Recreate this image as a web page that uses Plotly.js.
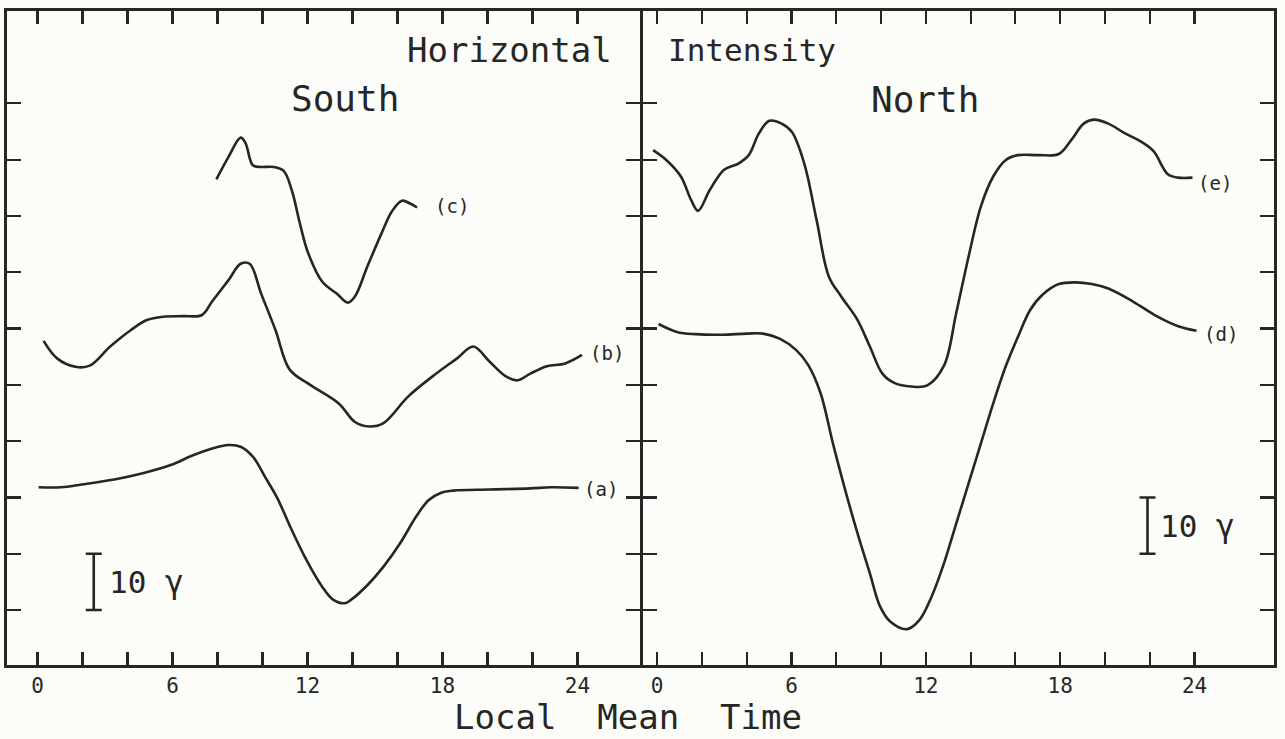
<!DOCTYPE html>
<html>
<head>
<meta charset="utf-8">
<script src="https://cdn.plot.ly/plotly-3.0.1.min.js"></script>
<style>
html,body{margin:0;padding:0;background:#fcfcf8;}
#chart{width:1285px;height:739px;}
</style>
</head>
<body>
<div id="chart"></div>
<script>
// Local mean time (hours) and amplitude (gamma, arbitrary offset)
// South panel
const hoursA = [0.05,1.05,1.96,3.41,4.68,5.95,6.86,7.76,8.49,9.03,9.58,10.12,10.67,11.21,11.94,12.66,13.12,13.66,13.93,14.66,15.38,16.11,16.83,17.38,17.92,18.47,20.1,21.91,22.82,24.05];
const valuesA = [21.8,21.8,22.3,23.2,24.3,25.8,27.4,28.7,29.3,29.0,27.2,23.6,19.8,15.0,9.0,4.1,1.9,1.2,1.8,4.4,7.7,11.8,16.6,19.5,20.8,21.2,21.4,21.6,21.8,21.7];

const hoursB = [0.27,0.87,1.69,2.32,3.23,4.14,4.86,5.59,6.49,7.31,7.76,8.49,9.03,9.43,9.94,10.58,11.21,12.12,13.39,14.11,14.75,15.38,16.47,17.56,18.65,19.37,20.1,20.82,21.33,21.91,22.64,23.46,24.2];
const valuesB = [47.8,44.7,43.2,43.4,46.8,49.7,51.5,52.1,52.2,52.4,54.8,58.6,61.5,61.5,56.2,49.7,42.7,40.0,36.7,33.4,32.6,33.2,37.9,41.5,44.7,46.8,44.1,41.5,40.8,42.0,43.3,43.8,45.3];

const hoursC = [7.95,8.49,9.03,9.25,9.57,9.94,10.48,10.94,11.3,11.66,12.03,12.66,13.3,13.79,14.11,14.66,15.29,15.75,16.2,16.56,16.87];
const valuesC = [76.5,80.5,83.9,82.9,79.0,78.7,78.7,78.0,74.6,68.7,63.4,58.3,56.2,54.6,55.7,61.0,66.9,70.8,72.7,72.2,71.5];

// North panel
const hoursD = [0.06,0.88,1.71,2.9,4.0,4.73,5.47,6.2,6.75,7.3,7.85,8.4,8.95,9.5,9.96,10.42,11.16,11.71,12.26,12.81,13.36,13.91,14.46,15.01,15.56,16.11,16.66,17.21,17.94,18.68,19.41,20.15,21.25,22.35,23.27,24.09];
const valuesD = [50.8,49.4,49.0,48.9,49.1,49.1,48.2,46.2,43.5,38.5,29.6,21.3,13.6,6.5,0.6,-2.1,-3.4,-1.8,2.4,8.3,15.4,22.5,29.6,36.7,43.2,48.5,53.3,56.0,57.9,58.2,57.9,57.1,54.8,52.1,50.4,49.6];

const hoursE = [-0.18,0.42,1.06,1.52,1.83,2.35,2.99,3.63,4.09,4.55,5.01,5.56,6.02,6.57,7.12,7.67,8.22,8.95,9.5,10.06,10.61,11.34,12.07,12.81,13.36,13.91,14.46,15.01,15.56,16.11,17.03,17.94,18.5,19.05,19.5,20.15,20.88,21.61,22.17,22.81,23.27,23.91];
const valuesE = [81.7,79.9,77.0,72.8,70.9,74.6,78.2,79.3,80.8,84.7,86.9,86.4,84.9,79.3,69.3,59.2,55.7,51.5,46.8,42.0,40.3,39.7,39.9,43.4,52.8,62.8,71.7,77.0,79.9,80.8,80.8,81.0,83.5,86.4,87.1,86.4,84.7,83.2,81.5,77.4,76.8,76.8];

// Axis ticks
const xTickVals = [0,2,4,6,8,10,12,14,16,18,20,22,24];
const xTickText = ['0','','','6','','','12','','','18','','','24'];
const yTickVals = [0,10,20,30,40,50,60,70,80,90];

// Scale bars (10 gamma)
const scaleLeft = {x: 2.5, y0: 0, y1: 10};
const scaleRight = {x: 21.9, y0: 10, y1: 20};

const INK = '#262626';
const MONO = 'DejaVu Sans Mono, monospace';

function curve(x, y, xa, ya) {
  return {x: x, y: y, xaxis: xa, yaxis: ya, type: 'scatter', mode: 'lines',
    line: {color: INK, width: 2.6, shape: 'spline', smoothing: 1.0},
    hoverinfo: 'skip', showlegend: false};
}
function scaleBar(s, xa, ya) {
  const mid = (s.y0 + s.y1) / 2, half = (s.y1 - s.y0) / 2;
  return {x: [s.x], y: [mid], xaxis: xa, yaxis: ya, type: 'scatter', mode: 'markers',
    marker: {size: 1, opacity: 0}, hoverinfo: 'skip', showlegend: false,
    error_y: {type: 'data', array: [half], visible: true, color: INK, thickness: 2.6, width: 8}};
}

const traces = [
  curve(hoursA, valuesA, 'x', 'y'),
  curve(hoursB, valuesB, 'x', 'y'),
  curve(hoursC, valuesC, 'x', 'y'),
  curve(hoursD, valuesD, 'x2', 'y2'),
  curve(hoursE, valuesE, 'x2', 'y2'),
  scaleBar(scaleLeft, 'x', 'y'),
  scaleBar(scaleRight, 'x2', 'y2')
];

function xAxis(domain, range, anchor) {
  return {domain: domain, range: range, anchor: anchor, tickmode: 'array',
    tickvals: xTickVals, ticktext: xTickText, ticks: 'inside', ticklen: 13, tickwidth: 2.2,
    tickcolor: INK, showline: true, linecolor: INK, linewidth: 2.6, mirror: 'ticks',
    showgrid: false, zeroline: false, fixedrange: true, ticklabelstandoff: 0,
    tickfont: {family: MONO, size: 21, color: INK}};
}
function yAxis(domain, anchor) {
  return {domain: domain, range: [-9.77, 106.45], anchor: anchor, tickmode: 'array',
    tickvals: yTickVals, showticklabels: false, ticks: 'inside', ticklen: 14, tickwidth: 2.2,
    tickcolor: INK, showline: true, linecolor: INK, linewidth: 2.6, mirror: 'ticks',
    showgrid: false, zeroline: false, fixedrange: true};
}

const yDom = [0.1001, 0.9855];
const W = 1285, H = 739;
function px(x) { return x / W; }
function py(y) { return 1 - y / H; }

function note(text, x, y, size, xanchor, xref, yref, yanchor) {
  return {text: text, x: x, y: y, xref: xref || 'paper', yref: yref || 'paper',
    xanchor: xanchor || 'center', yanchor: yanchor || 'middle', showarrow: false,
    font: {family: MONO, size: size, color: INK}};
}

const layout = {
  width: W, height: H,
  margin: {l: 0, r: 0, t: 0, b: 0},
  paper_bgcolor: '#fcfcf8', plot_bgcolor: '#fcfcf8',
  showlegend: false,
  xaxis: xAxis([px(7), px(640)], [-1.356, 26.78], 'y'),
  yaxis: yAxis(yDom, 'x'),
  xaxis2: xAxis([px(642.6), px(1274)], [-0.65, 27.55], 'y2'),
  yaxis2: yAxis(yDom, 'x2'),
  annotations: [
    note('Horizontal', px(614), py(50), 34, 'right'),
    note('Intensity', px(666), py(50), 31, 'left'),
    note('South', px(345), py(98), 36),
    note('North', px(925), py(100), 36),
    note('(a)', 24.2, 21.5, 19, 'left', 'x', 'y'),
    note('(b)', 24.45, 45.6, 19, 'left', 'x', 'y'),
    note('(c)', 17.6, 71.8, 19, 'left', 'x', 'y'),
    note('(d)', 24.35, 49.0, 19, 'left', 'x2', 'y2'),
    note('(e)', 24.05, 75.8, 19, 'left', 'x2', 'y2'),
    note('10 γ', 3.1, 5, 31, 'left', 'x', 'y'),
    note('10 γ', 22.35, 15, 31, 'left', 'x2', 'y2'),
    note('Local\u00a0\u00a0Mean\u00a0\u00a0Time', px(628), 0, 34, 'center', 'paper', 'paper', 'bottom')
  ]
};

Plotly.newPlot('chart', traces, layout, {staticPlot: true, displayModeBar: false});
</script>
</body>
</html>
